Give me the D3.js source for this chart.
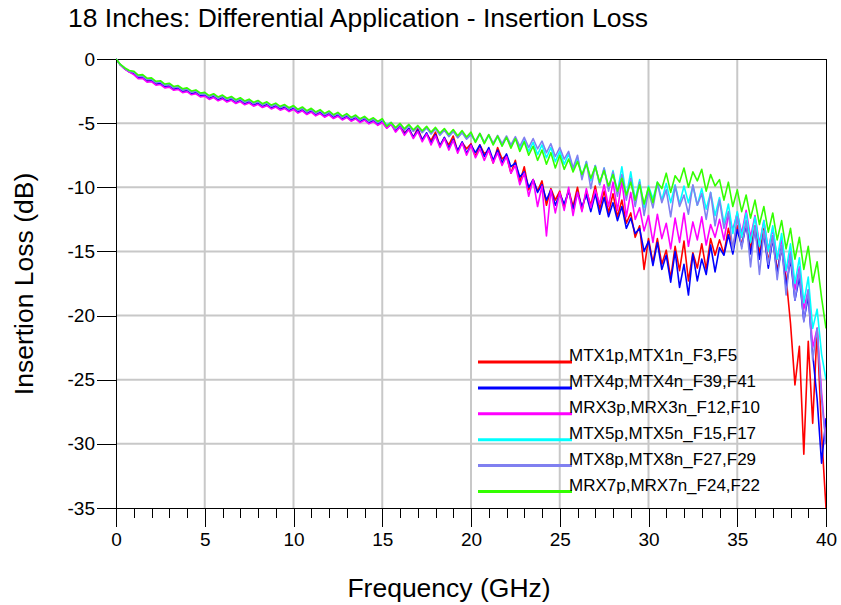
<!DOCTYPE html>
<html>
<head>
  <meta charset="utf-8">
  <script src="https://d3js.org/d3.v7.min.js"></script>
  <style>
    body { margin: 0; background: #fff; }
    svg text { font-family: "Liberation Sans", Arial, sans-serif; fill: #000; }
    .grid line { stroke: #c8c8c8; stroke-width: 2px; }
    .axis path, .axis line { stroke: #000; shape-rendering: crispEdges; }
    .series { fill: none; stroke-width: 1.6px; stroke-linejoin: round; }
  </style>
</head>
<body>
  <svg id="chart" width="841" height="605"></svg>
  <script>
    // frequency samples, GHz (every 0.25 GHz)
    var freq = d3.range(0, 161).map(function (i) { return i / 4; });

    var names = ['MTX1p,MTX1n_F3,F5', 'MTX4p,MTX4n_F39,F41', 'MRX3p,MRX3n_F12,F10',
                 'MTX5p,MTX5n_F15,F17', 'MTX8p,MTX8n_F27,F29', 'MRX7p,MRX7n_F24,F22'];
    var colors = ['#ff0000', '#0000ff', '#ff00ff', '#00ffff', '#8080f0', '#33ff00'];

    var xTicks = [0, 5, 10, 15, 20, 25, 30, 35, 40];
    var yTicks = [0, -5, -10, -15, -20, -25, -30, -35];

    // insertion loss, dB
    var mtx1 = [
      0, -0.46, -0.77, -0.99, -1.12, -1.43, -1.41, -1.7, -1.67, -1.94, -1.89, -2.15, -2.09, -2.34, -2.27, -2.52, -2.45, -2.69, -2.61, -2.85,
      -2.8, -3.05, -2.91, -3.16, -3.01, -3.26, -3.12, -3.37, -3.22, -3.47, -3.33, -3.58, -3.43, -3.68, -3.54, -3.79, -3.64, -3.89, -3.75, -4.0,
      -3.83, -4.12, -3.94, -4.23, -4.04, -4.33, -4.15, -4.44, -4.25, -4.54, -4.36, -4.65, -4.46, -4.75, -4.57, -4.86, -4.67, -4.96, -4.78, -5.07,
      -4.85, -5.2, -4.95, -5.6, -5.1, -5.75, -5.45, -6.1, -5.4, -6.3, -5.85, -6.35, -5.7, -6.8, -6.15, -6.7, -6.0, -7.2, -6.5, -7.0,
      -6.6, -7.6, -6.7, -7.4, -7.1, -8.1, -6.9, -7.8, -7.5, -8.9, -7.9, -9.6, -8.4, -10.2, -9.4, -10.3, -9.5, -11.4, -10.1, -11.0,
      -10.3, -11.6, -10.2, -11.5, -10.0, -11.8, -10.3, -11.4, -9.9, -11.7, -10.3, -12.0, -10.5, -12.3, -11.0, -12.8, -12.0, -13.9, -13.0, -16.4,
      -14.0, -15.9, -14.0, -16.0, -14.9, -17.1, -14.6, -16.5, -14.2, -17.3, -15.1, -16.3, -14.4, -16.4, -14.0, -15.3, -14.1, -15.2, -13.2, -14.7,
      -13.0, -14.5, -12.8, -14.8, -13.0, -15.2, -13.2, -15.8, -13.8, -16.5, -14.8, -17.0, -20.6, -25.4, -22.4, -30.8, -22.0, -28.4, -21.0, -29.2,
      -35.0
    ];
    var mtx4 = [
      0, -0.46, -0.77, -1.0, -1.15, -1.46, -1.44, -1.73, -1.7, -1.97, -1.92, -2.18, -2.12, -2.37, -2.3, -2.55, -2.48, -2.72, -2.64, -2.88,
      -2.83, -3.08, -2.94, -3.19, -3.04, -3.29, -3.15, -3.4, -3.25, -3.5, -3.36, -3.61, -3.46, -3.71, -3.57, -3.82, -3.67, -3.92, -3.78, -4.03,
      -3.86, -4.15, -3.97, -4.26, -4.07, -4.36, -4.18, -4.47, -4.28, -4.57, -4.39, -4.68, -4.49, -4.78, -4.6, -4.89, -4.7, -4.99, -4.81, -5.1,
      -4.88, -5.35, -5.05, -5.6, -5.25, -5.85, -5.4, -6.1, -5.55, -6.3, -5.75, -6.55, -5.9, -6.75, -6.1, -6.95, -6.25, -7.15, -6.45, -7.35,
      -6.7, -7.3, -6.7, -7.6, -6.9, -7.9, -7.1, -8.1, -7.4, -8.4, -8.1, -9.2, -8.8, -10.0, -9.4, -10.4, -9.8, -11.0, -10.2, -11.4,
      -10.5, -11.3, -10.3, -11.7, -10.4, -11.5, -10.6, -11.9, -10.5, -12.1, -10.8, -12.3, -11.2, -12.6, -11.5, -13.2, -12.4, -13.6, -13.2, -15.0,
      -14.2, -16.1, -14.3, -16.4, -15.3, -17.4, -15.0, -17.8, -16.0, -18.4, -15.2, -17.3, -15.6, -16.8, -14.5, -16.6, -14.7, -15.3, -13.7, -15.2,
      -13.3, -14.6, -12.9, -15.2, -13.3, -15.6, -13.6, -16.3, -14.0, -16.8, -14.6, -17.8, -15.6, -18.8, -17.0, -20.4, -18.5, -23.0, -26.5, -31.5,
      -28.0
    ];
    var mrx3 = [
      0, -0.47, -0.79, -1.02, -1.22, -1.53, -1.51, -1.8, -1.77, -2.04, -1.99, -2.25, -2.19, -2.44, -2.37, -2.62, -2.55, -2.79, -2.71, -2.95,
      -2.9, -3.15, -3.01, -3.26, -3.11, -3.36, -3.22, -3.47, -3.32, -3.57, -3.43, -3.68, -3.53, -3.78, -3.64, -3.89, -3.74, -3.99, -3.85, -4.1,
      -3.93, -4.22, -4.04, -4.33, -4.14, -4.43, -4.25, -4.54, -4.35, -4.64, -4.46, -4.75, -4.56, -4.85, -4.67, -4.96, -4.77, -5.06, -4.88, -5.17,
      -4.95, -5.4, -5.1, -5.7, -5.3, -5.95, -5.5, -6.2, -5.65, -6.45, -5.85, -6.7, -6.0, -6.9, -6.2, -7.1, -6.35, -7.35, -6.55, -7.5,
      -6.75, -7.7, -7.0, -7.9, -7.1, -8.1, -7.3, -8.3, -7.6, -8.9, -8.3, -9.8, -8.9, -10.7, -9.4, -11.5, -9.9, -13.8, -10.2, -12.0,
      -10.4, -11.8, -10.0, -12.2, -10.4, -11.9, -10.1, -11.6, -10.2, -11.3, -9.8, -11.5, -9.6, -11.8, -9.5, -12.3, -10.4, -12.5, -11.6, -13.4,
      -12.2, -14.3, -12.1, -14.0, -12.8, -14.8, -12.4, -14.3, -12.0, -14.6, -12.7, -14.1, -12.3, -14.5, -12.9, -13.9, -12.5, -14.1, -12.2, -13.3,
      -12.0, -13.6, -11.8, -13.9, -12.2, -14.4, -12.6, -14.9, -13.2, -15.6, -14.0, -16.6, -15.0, -18.0, -16.2, -19.5, -18.0, -22.5, -21.0, -26.0,
      -30.0
    ];
    var mtx5 = [
      0, -0.44, -0.72, -0.94, -1.0, -1.31, -1.29, -1.58, -1.55, -1.82, -1.77, -2.03, -1.97, -2.22, -2.15, -2.4, -2.33, -2.57, -2.49, -2.73,
      -2.68, -2.93, -2.79, -3.04, -2.89, -3.14, -3.0, -3.25, -3.1, -3.35, -3.21, -3.46, -3.31, -3.56, -3.42, -3.67, -3.52, -3.77, -3.63, -3.88,
      -3.7, -3.99, -3.81, -4.1, -3.91, -4.2, -4.02, -4.31, -4.12, -4.41, -4.23, -4.52, -4.33, -4.62, -4.44, -4.73, -4.54, -4.83, -4.65, -4.94,
      -4.72, -5.15, -4.95, -5.4, -5.05, -5.5, -5.15, -5.6, -5.25, -5.7, -5.35, -5.8, -5.42, -5.9, -5.5, -6.0, -5.6, -6.1, -5.7, -6.2,
      -5.85, -6.45, -5.85, -6.55, -5.95, -6.65, -6.05, -6.75, -6.1, -6.85, -6.2, -7.0, -6.35, -7.2, -6.5, -7.45, -6.7, -7.7, -6.9, -8.0,
      -7.2, -8.2, -7.4, -8.6, -7.7, -9.1, -8.0, -9.5, -8.3, -9.8, -8.5, -10.1, -8.7, -10.4, -8.4, -10.7, -8.8, -11.0, -9.4, -11.6,
      -9.9, -10.9, -9.6, -11.0, -9.7, -11.2, -9.8, -11.3, -9.9, -11.2, -9.9, -11.4, -10.1, -11.7, -10.4, -12.2, -10.8, -12.8, -11.3, -13.6,
      -11.9, -13.9, -12.0, -14.3, -12.3, -14.6, -12.6, -15.0, -13.0, -15.6, -13.6, -16.5, -14.4, -17.5, -15.5, -19.0, -17.0, -21.0, -19.5, -23.0,
      -25.0
    ];
    var mtx8 = [
      0, -0.44, -0.73, -0.95, -1.03, -1.34, -1.31, -1.6, -1.57, -1.84, -1.79, -2.05, -1.99, -2.24, -2.17, -2.42, -2.35, -2.59, -2.51, -2.75,
      -2.7, -2.95, -2.81, -3.06, -2.91, -3.16, -3.02, -3.27, -3.12, -3.37, -3.23, -3.48, -3.33, -3.58, -3.44, -3.69, -3.54, -3.79, -3.65, -3.9,
      -3.73, -4.02, -3.84, -4.13, -3.94, -4.23, -4.05, -4.34, -4.15, -4.44, -4.26, -4.55, -4.36, -4.65, -4.47, -4.76, -4.57, -4.86, -4.68, -4.97,
      -4.75, -5.2, -5.0, -5.45, -5.1, -5.55, -5.2, -5.65, -5.3, -5.75, -5.38, -5.85, -5.45, -5.95, -5.55, -6.05, -5.65, -6.15, -5.75, -6.25,
      -5.9, -6.4, -5.8, -6.5, -5.9, -6.55, -5.95, -6.6, -6.0, -6.7, -6.05, -6.8, -6.1, -6.9, -6.2, -7.0, -6.4, -7.3, -6.6, -7.6,
      -6.9, -7.8, -7.2, -8.5, -7.5, -9.4, -8.0, -10.1, -8.3, -9.8, -8.5, -10.3, -8.8, -10.7, -9.0, -11.0, -9.3, -11.5, -9.6, -12.2,
      -10.3, -11.6, -9.7, -11.2, -10.2, -12.3, -9.9, -11.5, -10.6, -12.1, -9.8, -11.4, -10.5, -12.5, -10.4, -13.0, -11.0, -13.2, -11.9, -14.9,
      -12.3, -14.8, -12.6, -16.2, -13.0, -16.8, -13.4, -16.0, -13.8, -17.2, -14.5, -18.4, -15.2, -18.8, -16.5, -20.5, -18.0, -23.5, -21.0, -26.5,
      -30.0
    ];
    var mrx7 = [
      0, -0.42, -0.7, -0.9, -0.95, -1.25, -1.22, -1.5, -1.47, -1.74, -1.69, -1.95, -1.89, -2.14, -2.07, -2.32, -2.25, -2.49, -2.41, -2.65,
      -2.6, -2.85, -2.71, -2.96, -2.81, -3.06, -2.92, -3.17, -3.02, -3.27, -3.13, -3.38, -3.23, -3.48, -3.34, -3.59, -3.44, -3.69, -3.55, -3.8,
      -3.63, -3.92, -3.74, -4.03, -3.84, -4.13, -3.95, -4.24, -4.05, -4.34, -4.16, -4.45, -4.26, -4.55, -4.37, -4.66, -4.47, -4.76, -4.58, -4.87,
      -4.65, -5.25, -4.95, -5.35, -5.02, -5.43, -5.1, -5.52, -5.18, -5.6, -5.25, -5.7, -5.33, -5.78, -5.42, -5.88, -5.5, -5.98, -5.58, -6.08,
      -5.7, -6.5, -5.8, -6.6, -5.9, -6.7, -6.0, -6.8, -6.1, -6.95, -6.2, -7.2, -6.45, -7.5, -6.8, -7.9, -7.1, -8.2, -7.3, -8.5,
      -7.5, -8.6, -7.8, -8.8, -8.0, -9.0, -8.2, -9.3, -8.4, -9.6, -8.7, -9.9, -9.0, -10.3, -9.3, -10.6, -9.6, -11.0, -9.8, -11.3,
      -10.0, -11.2, -9.6, -10.1, -8.9, -10.4, -9.1, -9.6, -8.5, -10.0, -8.8, -9.5, -8.6, -10.3, -9.0, -9.9, -9.4, -11.0, -9.6, -11.5,
      -10.2, -11.9, -10.6, -12.4, -11.0, -12.9, -11.5, -13.5, -12.0, -14.1, -12.6, -14.8, -13.2, -15.6, -13.9, -16.4, -14.6, -17.4, -15.8, -18.6,
      -21.0
    ];

    var seriesValues = [mtx1, mtx4, mrx3, mtx5, mtx8, mrx7];

    var plotLeft = 116, plotTop = 59, plotRight = 826, plotBottom = 508;

    var svg = d3.select('#chart');

    var x = d3.scaleLinear().domain([0, 40]).range([plotLeft, plotRight]);
    var y = d3.scaleLinear().domain([-35, 0]).range([plotBottom, plotTop]);

    // grid
    var grid = svg.append('g').attr('class', 'grid');
    grid.selectAll('.v').data(xTicks.slice(1, -1)).enter().append('line')
      .attr('x1', function (d) { return x(d); }).attr('x2', function (d) { return x(d); })
      .attr('y1', plotTop).attr('y2', plotBottom);
    grid.selectAll('.h').data(yTicks.slice(1, -1)).enter().append('line')
      .attr('x1', plotLeft).attr('x2', plotRight)
      .attr('y1', function (d) { return y(d); }).attr('y2', function (d) { return y(d); });

    // frame top / right
    svg.append('line').attr('x1', plotLeft).attr('x2', plotRight).attr('y1', plotTop).attr('y2', plotTop)
      .attr('stroke', '#000').attr('shape-rendering', 'crispEdges');
    svg.append('line').attr('x1', plotRight).attr('x2', plotRight).attr('y1', plotTop).attr('y2', plotBottom)
      .attr('stroke', '#000').attr('shape-rendering', 'crispEdges');

    // curves
    svg.append('clipPath').attr('id', 'clip').append('rect')
      .attr('x', plotLeft).attr('y', plotTop - 2)
      .attr('width', plotRight - plotLeft).attr('height', plotBottom - plotTop + 2);

    var line = d3.line()
      .x(function (d, i) { return x(freq[i]); })
      .y(function (d) { return y(d); });

    svg.append('g').attr('clip-path', 'url(#clip)')
      .selectAll('path').data(seriesValues).enter().append('path')
      .attr('class', 'series')
      .attr('stroke', function (d, i) { return colors[i]; })
      .attr('d', line);

    // axes (plain hyphen minus, as in the original)
    var yAxis = svg.append('g').attr('class', 'axis')
      .attr('transform', 'translate(' + plotLeft + ',0)')
      .call(d3.axisLeft(y).tickValues(yTicks).tickSize(19).tickPadding(2).tickSizeOuter(0)
        .tickFormat(function (d) { return String(d); }));
    yAxis.selectAll('text').style('font-size', '19px');

    svg.append('g').attr('class', 'axis')
      .attr('transform', 'translate(0,' + plotBottom + ')')
      .call(d3.axisBottom(x).tickValues(d3.range(0, 41)).tickSize(10).tickFormat('').tickSizeOuter(0));

    var xAxis = svg.append('g').attr('class', 'axis')
      .attr('transform', 'translate(0,' + plotBottom + ')')
      .call(d3.axisBottom(x).tickValues(xTicks).tickSize(19).tickPadding(6).tickSizeOuter(0));
    xAxis.selectAll('text').style('font-size', '19px');

    // legend
    var legend = svg.append('g').selectAll('g').data(names).enter().append('g')
      .attr('transform', function (d, i) { return 'translate(478,' + (362 + i * 25.9) + ')'; });
    legend.append('line').attr('x1', 0).attr('x2', 94)
      .attr('stroke-width', 3)
      .attr('stroke', function (d, i) { return colors[i]; });
    legend.append('text').attr('x', 91).attr('y', -1)
      .style('font-size', '17px')
      .text(function (d) { return d; });

    // titles
    svg.append('text').attr('x', 68).attr('y', 27)
      .style('font-size', '26.5px')
      .text('18 Inches: Differential Application - Insertion Loss');

    svg.append('text').attr('x', 449).attr('y', 597)
      .attr('text-anchor', 'middle')
      .style('font-size', '26.5px')
      .text('Frequency (GHz)');

    svg.append('text')
      .attr('transform', 'translate(33,284) rotate(-90)')
      .attr('text-anchor', 'middle')
      .style('font-size', '26.5px')
      .text('Insertion Loss (dB)');
  </script>
</body>
</html>
